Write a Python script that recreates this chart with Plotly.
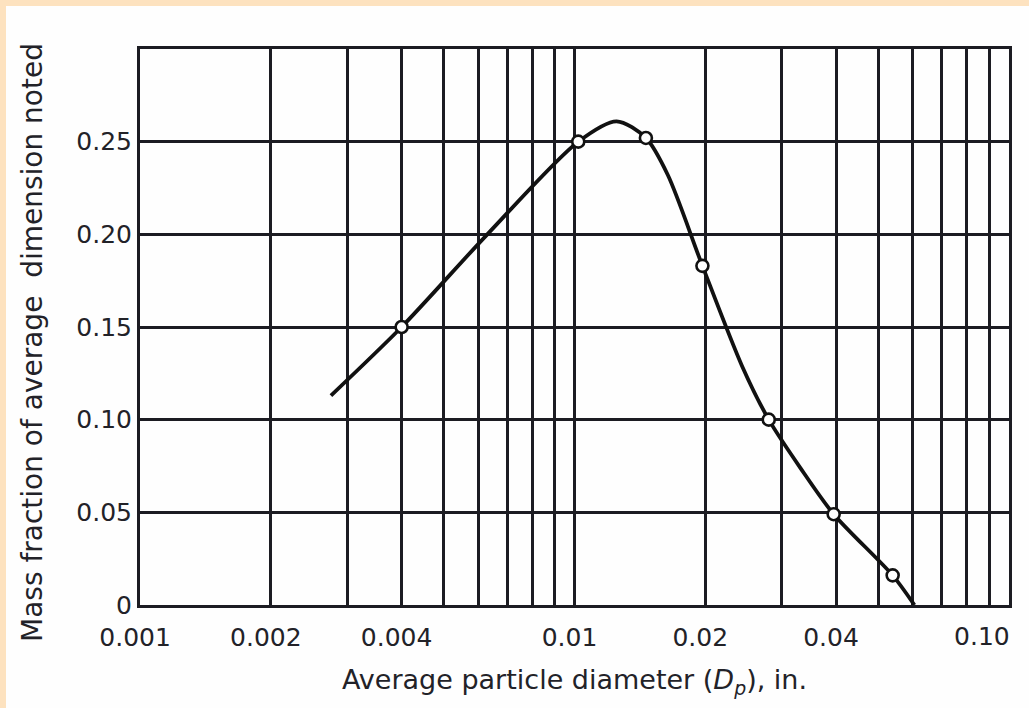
import plotly.graph_objects as go

# ---- data ----
marker_x = [0.004, 0.0102, 0.0146, 0.0197, 0.028, 0.0395, 0.054]
marker_y = [0.150, 0.250, 0.252, 0.183, 0.100, 0.049, 0.016]

curve_x = [0.00275, 0.004, 0.0063, 0.0102, 0.0125, 0.0146, 0.0164,
           0.0197, 0.0243, 0.028, 0.0331, 0.0395, 0.054, 0.0606]
curve_y = [0.113, 0.150, 0.200, 0.250, 0.261, 0.252, 0.232,
           0.183, 0.129, 0.100, 0.074, 0.049, 0.016, 0.0]

x_tick_vals = [0.001, 0.002, 0.003, 0.004, 0.005, 0.006, 0.007, 0.008, 0.009,
               0.01, 0.02, 0.03, 0.04, 0.05, 0.06, 0.07, 0.08, 0.09, 0.10]
x_tick_text = ["0.001", "0.002", "", "0.004", "", "", "", "", "",
               "0.01", "0.02", "", "0.04", "", "", "", "", "", "0.10"]
y_tick_vals = [0, 0.05, 0.10, 0.15, 0.20, 0.25, 0.30]
y_tick_text = ["0", "0.05", "0.10", "0.15", "0.20", "0.25", ""]

x_title = "Average particle diameter (<i>D<sub>p</sub></i>), in."
y_title = "Mass fraction of average  dimension noted"

W, H = 1029, 708
L, R, T, B = 140, 20, 49, 103
INK = "#1c1c22"
TXT = "#222228"
FONT = "DejaVu Sans"
XRANGE = [-3.0002, -0.9998]

fig = go.Figure()
fig.add_trace(go.Scatter(
    x=curve_x, y=curve_y, mode="lines",
    line=dict(color="#111111", width=3.8, shape="spline", smoothing=0.8),
    hoverinfo="skip", showlegend=False))
fig.add_trace(go.Scatter(
    x=marker_x, y=marker_y, mode="markers",
    marker=dict(symbol="circle", size=12, color="white",
                line=dict(color="#111111", width=2.6)),
    showlegend=False))
# invisible copy on the helper axis that carries the right-most label
fig.add_trace(go.Scatter(
    x=marker_x, y=marker_y, mode="markers", xaxis="x2", yaxis="y",
    marker=dict(size=1, opacity=0), hoverinfo="skip", showlegend=False))

pw = W - L - R
ph = H - T - B
def px_x(p):
    return (p - L) / pw
def px_y(p):
    return (H - B - p) / ph

# peach frame bands (top and left)
fig.add_shape(type="rect", xref="paper", yref="paper",
              x0=px_x(0), x1=px_x(W), y0=px_y(6), y1=px_y(0),
              fillcolor="#fde2bf", line_width=0, layer="below")
fig.add_shape(type="rect", xref="paper", yref="paper",
              x0=px_x(0), x1=px_x(6), y0=px_y(H), y1=px_y(0),
              fillcolor="#fde2bf", line_width=0, layer="below")

# y-axis title as an annotation (centred a little below the plot centre, as in the scan)
fig.add_annotation(
    text=y_title, textangle=-90, xref="paper", yref="paper",
    x=px_x(32), y=px_y(343), xanchor="center", yanchor="middle",
    showarrow=False, font=dict(size=28, family=FONT, color=TXT))

fig.update_layout(
    width=W, height=H,
    margin=dict(l=L, r=R, t=T, b=B, autoexpand=False),
    paper_bgcolor="#fefefe", plot_bgcolor="#fefefe",
    font=dict(family=FONT, color=TXT),
    showlegend=False,
    xaxis=dict(
        type="log", range=XRANGE,
        tickmode="array", tickvals=x_tick_vals,
        ticktext=x_tick_text[:-1] + [""],
        showgrid=True, gridcolor=INK, gridwidth=2.5,
        showline=True, mirror=True, linecolor=INK, linewidth=3,
        ticks="", ticklabelstandoff=8, ticklabelshift=-5,
        tickfont=dict(size=25, family=FONT, color=TXT),
        title=dict(text=x_title, font=dict(size=27, family=FONT, color=TXT), standoff=20),
        zeroline=False,
    ),
    xaxis2=dict(
        type="log", range=XRANGE, overlaying="x", anchor="y", side="bottom",
        tickmode="array", tickvals=x_tick_vals[-1:], ticktext=x_tick_text[-1:],
        showgrid=False, showline=False, zeroline=False,
        ticks="", ticklabelstandoff=14, ticklabelshift=-27,
        tickfont=dict(size=25, family=FONT, color=TXT),
    ),
    yaxis=dict(
        range=[0, 0.30],
        tickmode="array", tickvals=y_tick_vals, ticktext=y_tick_text,
        showgrid=True, gridcolor=INK, gridwidth=2.5,
        showline=True, mirror=True, linecolor=INK, linewidth=3,
        ticks="", ticklabelstandoff=0,
        tickfont=dict(size=25, family=FONT, color=TXT),
        zeroline=False,
    ),
)

fig.write_html("out.html")
